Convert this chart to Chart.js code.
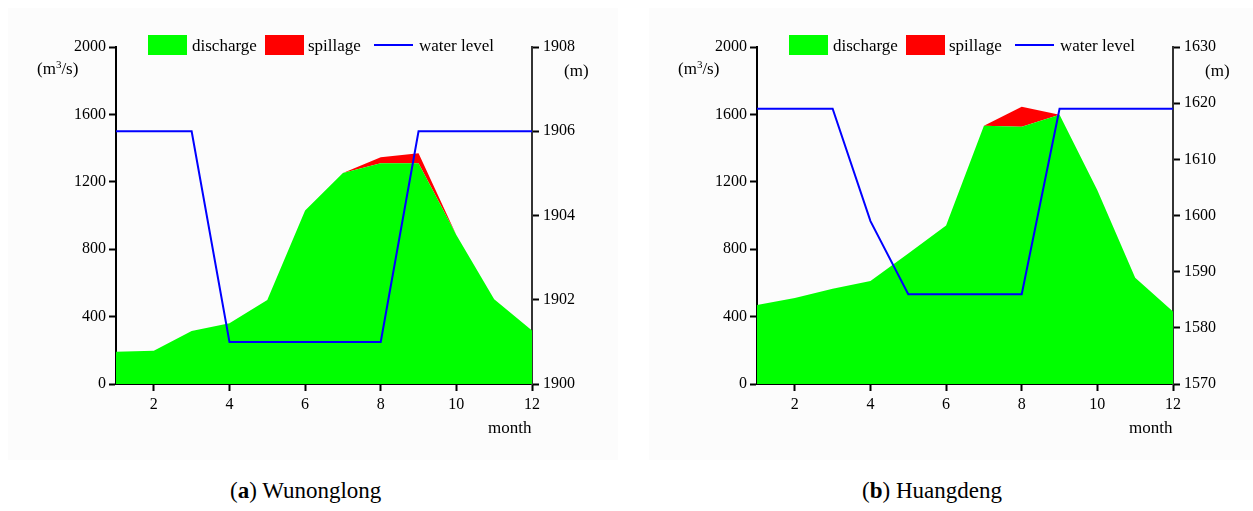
<!DOCTYPE html>
<html>
<head>
<meta charset="utf-8">
<script src="https://cdn.jsdelivr.net/npm/chart.js@4.4.1/dist/chart.umd.min.js"></script>
<style>
  html, body { margin: 0; padding: 0; background: #ffffff; }
  body { width: 1253px; height: 511px; position: relative; overflow: hidden; font-family: "Liberation Serif", "Times New Roman", serif; color: #000; }
  .panel { position: absolute; top: 8px; width: 610px; height: 452px; background: #fcfcfc; }
  .wrap { position: absolute; top: 0; width: 620px; height: 460px; }
  .wrap canvas { position: absolute; left: 0; top: 0; }
  .lbl { position: absolute; font-size: 17px; white-space: nowrap; line-height: 1; }
  .box { position: absolute; width: 39px; height: 20px; }
  .ln { position: absolute; width: 39px; height: 2px; background: #0000ff; }
  .cap { position: absolute; top: 479px; font-size: 23px; white-space: nowrap; line-height: 1; }
  sup { font-size: 11px; vertical-align: 6px; line-height: 0; }
</style>
</head>
<body>
<div class="panel" style="left:8px"></div>
<div class="panel" style="left:649px"></div>
<div class="wrap" id="w0" style="left:0px"><canvas id="c0" width="620" height="460"></canvas></div>
<div class="wrap" id="w1" style="left:641px"><canvas id="c1" width="620" height="460"></canvas></div>
<div class="cap" style="left:230px">(<b>a</b>) Wunonglong</div>
<div class="cap" style="left:862px">(<b>b</b>) Huangdeng</div>
<script>
// ---- data ----
const months = [1, 2, 3, 4, 5, 6, 7, 8, 9, 10, 11, 12];
const xTicks = [2, 4, 6, 8, 10, 12];

const wunDischarge = [192, 198, 315, 360, 498, 1030, 1252, 1310, 1310, 885, 503, 318];
const wunSpillage  = [0, 0, 0, 0, 0, 0, 0, 35, 60, 0, 0, 0];
const wunLevel     = [1906, 1906, 1906, 1901, 1901, 1901, 1901, 1901, 1906, 1906, 1906, 1906];

const hdDischarge = [469, 510, 565, 612, 775, 940, 1532, 1527, 1598, 1150, 630, 430];
const hdSpillage  = [0, 0, 0, 0, 0, 0, 0, 119, 0, 0, 0, 0];
const hdLevel     = [1619, 1619, 1619, 1599, 1586, 1586, 1586, 1586, 1619, 1619, 1619, 1619];

const seriesNames = ['discharge', 'spillage', 'water level'];
const flowTicks = { min: 0, max: 2000, step: 400 };
const wunLevelTicks = { min: 1900, max: 1908, step: 2 };
const hdLevelTicks = { min: 1570, max: 1630, step: 10 };

const GREEN = '#00ff00', RED = '#ff0000', BLUE = '#0000ff';
const FONT = { family: '"Liberation Serif", "Times New Roman", serif', size: 16 };
const plain = (v) => String(v);

function makeChart(id, discharge, spillage, level, lvlTicks) {
  const pts = (arr) => months.map((m, i) => ({ x: m, y: arr[i] }));
  return new Chart(document.getElementById(id), {
    type: 'line',
    data: {
      datasets: [
        { label: seriesNames[0], data: pts(discharge), yAxisID: 'y',
          fill: 'origin', backgroundColor: GREEN, borderColor: GREEN, borderWidth: 0,
          pointRadius: 0, tension: 0, order: 1 },
        { label: seriesNames[1], data: pts(spillage), yAxisID: 'y',
          fill: '-1', backgroundColor: RED, borderColor: RED, borderWidth: 0,
          pointRadius: 0, tension: 0, order: 2 },
        { label: seriesNames[2], data: pts(level), yAxisID: 'y2',
          fill: false, borderColor: BLUE, backgroundColor: BLUE, borderWidth: 2,
          pointRadius: 0, tension: 0, order: 0 }
      ]
    },
    options: {
      responsive: false,
      animation: false,
      layout: { padding: { top: 47, left: 0, right: 0, bottom: 0 } },
      plugins: { legend: { display: false }, tooltip: { enabled: false } },
      scales: {
        x: {
          type: 'linear', min: 1, max: 12,
          afterBuildTicks: (ax) => { ax.ticks = xTicks.map(v => ({ value: v })); },
          afterFit: (s) => { s.height = 76; },
          ticks: { color: '#000', font: FONT, padding: 4, maxRotation: 0, callback: plain },
          grid: { drawOnChartArea: false, drawTicks: true, tickLength: 7, tickColor: '#000', tickWidth: 2 },
          border: { display: true, color: '#000', width: 2 }
        },
        y: {
          type: 'linear', position: 'left', stacked: true,
          min: flowTicks.min, max: flowTicks.max,
          afterFit: (s) => { s.width = 116; },
          ticks: { stepSize: flowTicks.step, color: '#000', font: FONT, padding: 3, callback: plain },
          grid: { drawOnChartArea: false, drawTicks: true, tickLength: 7, tickColor: '#000', tickWidth: 2 },
          border: { display: true, color: '#000', width: 2 }
        },
        y2: {
          type: 'linear', position: 'right',
          min: lvlTicks.min, max: lvlTicks.max,
          afterFit: (s) => { s.width = 88; },
          ticks: { stepSize: lvlTicks.step, color: '#000', font: FONT, padding: 4, callback: plain },
          grid: { drawOnChartArea: false, drawTicks: true, tickLength: 7, tickColor: '#000', tickWidth: 2 },
          border: { display: true, color: '#333', width: 2 }
        }
      }
    }
  });
}

makeChart('c0', wunDischarge, wunSpillage, wunLevel, wunLevelTicks);
makeChart('c1', hdDischarge, hdSpillage, hdLevel, hdLevelTicks);

// legends and axis titles (HTML text, same layout for both panels)
['w0', 'w1'].forEach(id => {
  const w = document.getElementById(id);
  const add = (cls, css, html) => {
    const d = document.createElement('div');
    d.className = cls; d.style.cssText = css;
    if (html !== undefined) d.innerHTML = html;
    w.appendChild(d);
  };
  add('box', 'left:148px;top:35px;background:' + GREEN);
  add('lbl', 'left:192px;top:37px', seriesNames[0]);
  add('box', 'left:265px;top:35px;background:' + RED);
  add('lbl', 'left:308px;top:37px', seriesNames[1]);
  add('ln', 'left:374px;top:44px');
  add('lbl', 'left:419px;top:37px', seriesNames[2]);
  add('lbl', 'left:37px;top:60px', '(m<sup>3</sup>/s)');
  add('lbl', 'left:564px;top:62px', '(m)');
  add('lbl', 'left:488px;top:419px', 'month');
});
</script>
</body>
</html>
